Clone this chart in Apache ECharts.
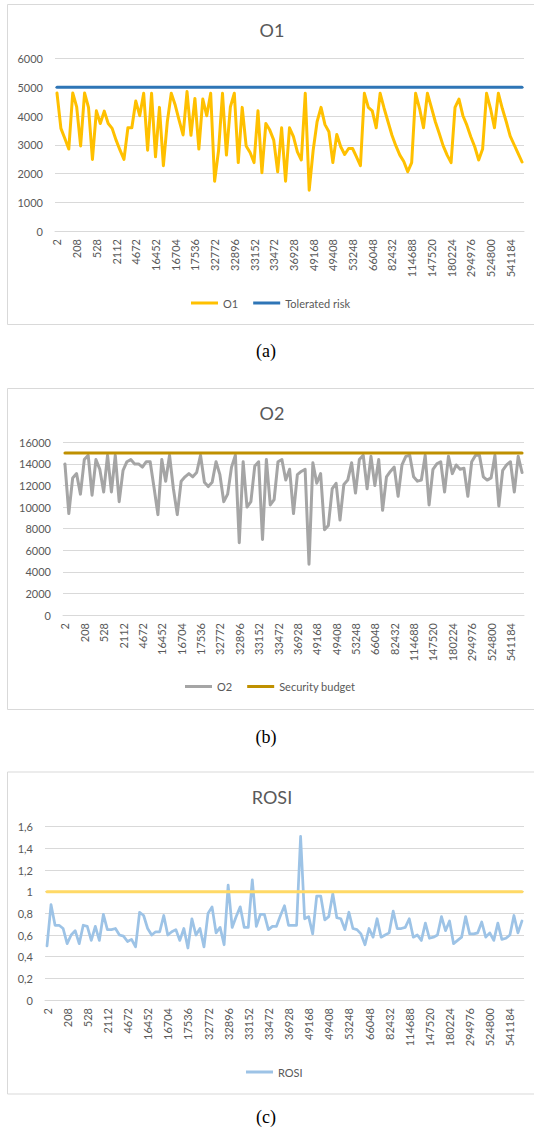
<!DOCTYPE html>
<html>
<head>
<meta charset="utf-8">
<title>O1 / O2 / ROSI</title>
<script src="https://cdn.jsdelivr.net/npm/echarts@6/dist/echarts.min.js"></script>
<style>
    html, body { margin: 0; padding: 0; background: #fff; }
    #chart { width: 534px; height: 1129px; }
</style>
</head>
<body>
<div id="chart"></div>
<script>
// x axis only prints every 5th category
var tickLabels = ['2', '208', '528', '2112', '4672', '16452', '16704', '17536', '32772', '32896',
    '33152', '33472', '36928', '49168', '49408', '53248', '66048', '82432', '114688', '147520',
    '180224', '294976', '524800', '541184'];

var O1 = [4800, 3570, 3220, 2850, 4800, 4320, 2960, 4800, 4300, 2490,
    4180, 3740, 4170, 3740, 3570, 3160, 2810, 2490, 3590, 3590,
    4520, 4010, 4790, 2810, 4790, 2580, 4300, 2270, 3800, 4790,
    4380, 3850, 3340, 4850, 3330, 4610, 2850, 4590, 4010, 4790,
    1730, 2800, 4790, 2640, 4320, 4790, 2380, 4300, 2960, 2730,
    2380, 4180, 2030, 3740, 3510, 3160, 2060, 3590, 1730, 3590,
    3280, 2750, 2470, 4790, 1420, 2800, 3800, 4300, 3700, 3450,
    2380, 3360, 2930, 2660, 2870, 2870, 2580, 2270, 4790, 4300,
    4180, 3590, 4790, 4270, 3800, 3330, 2960, 2640, 2420, 2060,
    2380, 4790, 4260, 3590, 4790, 4300, 3800, 3390, 2960, 2640,
    2380, 4300, 4590, 4010, 3680, 3280, 2930, 2470, 2850, 4790,
    4260, 3590, 4790, 4260, 3800, 3300, 3000, 2700, 2400];
var toleratedRisk = 5000;

var O2 = [14000, 9400, 12700, 13100, 11200, 14400, 14800, 11100, 14400, 13500,
    11400, 14800, 11400, 14800, 10500, 13400, 14200, 14400, 14000, 14000,
    13700, 14200, 14200, 11800, 9300, 14400, 12400, 14800, 11700, 9300,
    12400, 12800, 13100, 12800, 13200, 14800, 12300, 11900, 12300, 14200,
    13000, 10500, 11200, 13700, 14800, 6700, 14200, 10000, 10500, 13800,
    14200, 7000, 14400, 10200, 10700, 14200, 14400, 12500, 13500, 9400,
    13000, 13300, 13500, 4700, 14100, 12200, 13100, 7900, 8300, 11700,
    12200, 8800, 12100, 12500, 14100, 11300, 14400, 14800, 11700, 14700,
    12000, 14400, 9700, 12800, 13300, 13700, 11000, 13900, 14700, 14800,
    12800, 12400, 12500, 14800, 10200, 13500, 14000, 14200, 11400, 14700,
    13100, 13900, 13500, 13600, 11000, 14200, 14800, 14800, 12800, 12500,
    12700, 14800, 10100, 13400, 13900, 14200, 11400, 14700, 13200];
var securityBudget = 15000;

var ROSI = [0.50, 0.88, 0.69, 0.69, 0.66, 0.52, 0.60, 0.64, 0.52, 0.69,
    0.68, 0.55, 0.68, 0.55, 0.79, 0.65, 0.65, 0.66, 0.60, 0.59,
    0.54, 0.56, 0.49, 0.81, 0.78, 0.66, 0.60, 0.63, 0.63, 0.78,
    0.60, 0.63, 0.65, 0.55, 0.66, 0.48, 0.75, 0.60, 0.66, 0.49,
    0.80, 0.86, 0.62, 0.67, 0.51, 1.06, 0.67, 0.77, 0.86, 0.67,
    0.67, 1.11, 0.68, 0.79, 0.79, 0.65, 0.68, 0.68, 0.78, 0.87,
    0.69, 0.69, 0.69, 1.51, 0.75, 0.77, 0.61, 0.96, 0.96, 0.74,
    0.77, 0.98, 0.76, 0.75, 0.65, 0.81, 0.66, 0.65, 0.61, 0.51,
    0.66, 0.58, 0.75, 0.58, 0.60, 0.62, 0.82, 0.66, 0.66, 0.67,
    0.75, 0.58, 0.60, 0.55, 0.71, 0.57, 0.58, 0.60, 0.77, 0.64,
    0.73, 0.52, 0.55, 0.58, 0.77, 0.61, 0.61, 0.62, 0.72, 0.58,
    0.62, 0.55, 0.71, 0.56, 0.57, 0.60, 0.78, 0.62, 0.73];
var rosiThreshold = 1;

var step = 5;
var categories = O1.map(function (v, i) { return i % step === 0 ? tickLabels[i / step] : ''; });

var textGray = '#595959';
var lineGray = '#d9d9d9';
var font = 'Lato';

var chart = echarts.init(document.getElementById('chart'), null, { renderer: 'svg' });

function xAxis(idx) {
    return {
        type: 'category', gridIndex: idx, data: categories, boundaryGap: true,
        axisLine: { lineStyle: { color: lineGray, width: 1 } },
        axisTick: { show: false },
        axisLabel: { interval: step - 1, rotate: 90, margin: 8, color: textGray, fontSize: 11, fontFamily: font }
    };
}

// plain numbers, no thousands separator (Excel style); decimal comma for ROSI
function plain(v) { return String(v); }
function comma(v) { return String(Math.round(v * 10) / 10).replace('.', ','); }

function yAxis(idx, max, interval, fmt) {
    return {
        type: 'value', gridIndex: idx, min: 0, max: max, interval: interval,
        axisLine: { show: false },
        axisTick: { show: false },
        splitLine: { lineStyle: { color: lineGray, width: 1 } },
        axisLabel: { margin: 12, color: textGray, fontSize: 11, fontFamily: font, formatter: fmt }
    };
}

function line(name, idx, data, color, width) {
    return {
        type: 'line', name: name, xAxisIndex: idx, yAxisIndex: idx, data: data,
        symbol: 'none', animation: false,
        itemStyle: { color: color },
        lineStyle: { color: color, width: width, join: 'round', cap: 'round' }
    };
}

function legend(names, left, top) {
    return {
        data: names, left: left, top: top, padding: 0,
        icon: 'rect', itemWidth: 27, itemHeight: 3, itemGap: 15,
        selectedMode: false,
        textStyle: { color: textGray, fontSize: 11, fontFamily: font }
    };
}

function box(top, height) {
    return {
        type: 'rect', silent: true,
        shape: { x: 7.5, y: top + 0.5, width: 540, height: height },
        style: { fill: 'none', stroke: lineGray, lineWidth: 1 }
    };
}

function label(text, x, y, size, family, color) {
    return {
        type: 'text', silent: true, x: x, y: y,
        style: { text: text, fontSize: size, fontFamily: family, fill: color, align: 'center', verticalAlign: 'middle' }
    };
}

var option = {
    backgroundColor: '#fff',
    animation: false,
    grid: [
        { left: 55, right: 10, top: 58.5, height: 172.5, outerBoundsMode: 'none' },
        { left: 63, right: 10, top: 442.3, height: 172.7, outerBoundsMode: 'none' },
        { left: 45, right: 10, top: 826.7, height: 173.3, outerBoundsMode: 'none' }
    ],
    xAxis: [xAxis(0), xAxis(1), xAxis(2)],
    yAxis: [
        yAxis(0, 6000, 1000, plain),
        yAxis(1, 16000, 2000, plain),
        yAxis(2, 1.6, 0.2, comma)
    ],
    legend: [
        legend(['O1', 'Tolerated risk'], 191, 297.5),
        legend(['O2', 'Security budget'], 185, 681),
        legend(['ROSI'], 246, 1066.5)
    ],
    series: [
        line('O1', 0, O1, '#FFC000', 3),
        line('Tolerated risk', 0, O1.map(function () { return toleratedRisk; }), '#2E75B6', 3),
        line('O2', 1, O2, '#A5A5A5', 3),
        line('Security budget', 1, O2.map(function () { return securityBudget; }), '#BF9000', 3),
        line('ROSI', 2, ROSI, '#9DC3E6', 2.75),
        line('Threshold', 2, ROSI.map(function () { return rosiThreshold; }), '#FFD966', 3)
    ],
    graphic: [
        box(4, 320), box(388, 321), box(771.5, 322),
        label('O1', 272, 30, 18, font, textGray),
        label('O2', 272, 413, 18, font, textGray),
        label('ROSI', 272, 797, 18, font, textGray),
        label('(a)', 266, 351, 18, 'Liberation Serif', '#000'),
        label('(b)', 266, 736.5, 18, 'Liberation Serif', '#000'),
        label('(c)', 266, 1117, 18, 'Liberation Serif', '#000')
    ]
};

chart.setOption(option);
</script>
</body>
</html>
